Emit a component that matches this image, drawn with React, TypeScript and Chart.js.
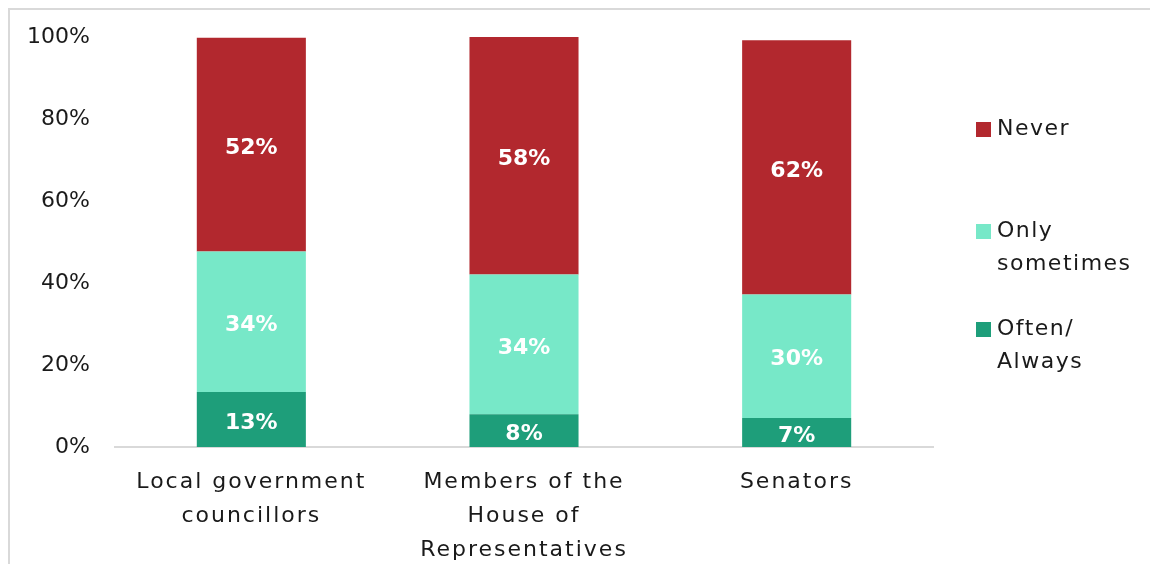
import React, { useEffect, useRef } from "react";
import { Chart, registerables } from "chart.js";

Chart.register(...registerables);

const categories: string[][] = [
  ["Local government", "councillors"],
  ["Members of the", "House of", "Representatives"],
  ["Senators"],
];
const oftenAlways = [13.4, 8.0, 7.1];
const onlySometimes = [34.3, 34.1, 30.1];
const never = [52.1, 58.0, 62.0];
const yTicks = [0, 20, 40, 60, 80, 100];

const seriesNames = ["Often/Always", "Only sometimes", "Never"];
const legendLines: string[][] = [["Never"], ["Only", "sometimes"], ["Often/", "Always"]];
const COLORS = { often: "#1E9E7A", some: "#77E8C8", never: "#B2282E" };
const FONT = "'DejaVu Sans', sans-serif";

const spacingPlugin = {
  id: "spacing",
  beforeDraw(chart: any) {
    (chart.ctx as any).letterSpacing = "2px";
  },
  beforeDatasetsDraw(chart: any) {
    (chart.ctx as any).letterSpacing = "0px";
  },
};

const labelsPlugin = {
  id: "segLabels",
  afterDatasetsDraw(chart: any) {
    const ctx = chart.ctx;
    ctx.save();
    (ctx as any).letterSpacing = "0px";
    ctx.font = `bold 22px ${FONT}`;
    ctx.fillStyle = "#ffffff";
    ctx.textAlign = "center";
    ctx.textBaseline = "middle";
    chart.data.datasets.forEach((ds: any, di: number) => {
      const meta = chart.getDatasetMeta(di);
      meta.data.forEach((bar: any, i: number) => {
        const v = ds.data[i];
        const y = (bar.y + bar.base) / 2;
        ctx.fillText(Math.round(v) + "%", bar.x, y + 3.5);
      });
    });
    ctx.restore();
  },
};

const legendPlugin = {
  id: "customLegend",
  afterDraw(chart: any) {
    const ctx = chart.ctx;
    const area = chart.chartArea;
    const colors = [COLORS.never, COLORS.some, COLORS.often];
    const firstLineY = [119, 221, 319];
    ctx.save();
    (ctx as any).letterSpacing = "1.5px";
    ctx.font = `22px ${FONT}`;
    ctx.textBaseline = "middle";
    ctx.textAlign = "left";
    const x0 = area.right + 43;
    legendLines.forEach((lines, i) => {
      const y = firstLineY[i];
      ctx.fillStyle = colors[i];
      ctx.fillRect(x0, y - 7, 15, 15);
      ctx.fillStyle = "#1a1a1a";
      lines.forEach((ln, j) => {
        ctx.fillText(ln, x0 + 21, y + j * 33);
      });
    });
    ctx.restore();
  },
};

export default function App() {
  const ref = useRef<HTMLCanvasElement | null>(null);
  useEffect(() => {
    if (!ref.current) return;
    const chart = new Chart(ref.current, {
      type: "bar",
      data: {
        labels: categories,
        datasets: [
          { label: seriesNames[0], data: oftenAlways, backgroundColor: COLORS.often },
          { label: seriesNames[1], data: onlySometimes, backgroundColor: COLORS.some },
          { label: seriesNames[2], data: never, backgroundColor: COLORS.never },
        ],
      },
      options: {
        responsive: false,
        animation: false,
        maintainAspectRatio: false,
        layout: { padding: { top: 27, left: 0, right: 225, bottom: 0 } },
        datasets: { bar: { barPercentage: 0.4, categoryPercentage: 1 } } as any,
        plugins: {
          legend: { display: false },
          tooltip: { enabled: false },
        },
        scales: {
          x: {
            stacked: true,
            grid: { display: false, drawTicks: false },
            border: { display: true, color: "#d9d9d9", width: 2 },
            afterFit: (scale: any) => {
              scale.height = 117;
            },
            ticks: {
              color: "#1a1a1a",
              font: { family: FONT, size: 22, lineHeight: 34 / 22 },
              padding: 18,
              maxRotation: 0,
              autoSkip: false,
            },
          },
          y: {
            stacked: true,
            min: 0,
            max: 100,
            afterFit: (scale: any) => {
              scale.width = 105;
              scale.paddingTop = 0;
              scale.paddingBottom = 0;
            },
            afterBuildTicks: (axis: any) => {
              axis.ticks = yTicks.map((v) => ({ value: v }));
            },
            grid: { display: false, drawTicks: false },
            border: { display: false },
            ticks: {
              z: 1,
              color: "#1a1a1a",
              font: { family: FONT, size: 22 },
              padding: 25,
              callback: (v: any) => v + "%",
            },
          },
        },
      },
      plugins: [spacingPlugin, labelsPlugin, legendPlugin],
    });
    return () => chart.destroy();
  }, []);
  return (
    <div
      style={{
        width: 1150,
        height: 556,
        borderTop: "2px solid #d9d9d9",
        borderLeft: "2px solid #d9d9d9",
        boxSizing: "border-box",
        background: "#fff",
      }}
    >
      <canvas ref={ref} width={1148} height={554} style={{ display: "block" }} />
    </div>
  );
}
